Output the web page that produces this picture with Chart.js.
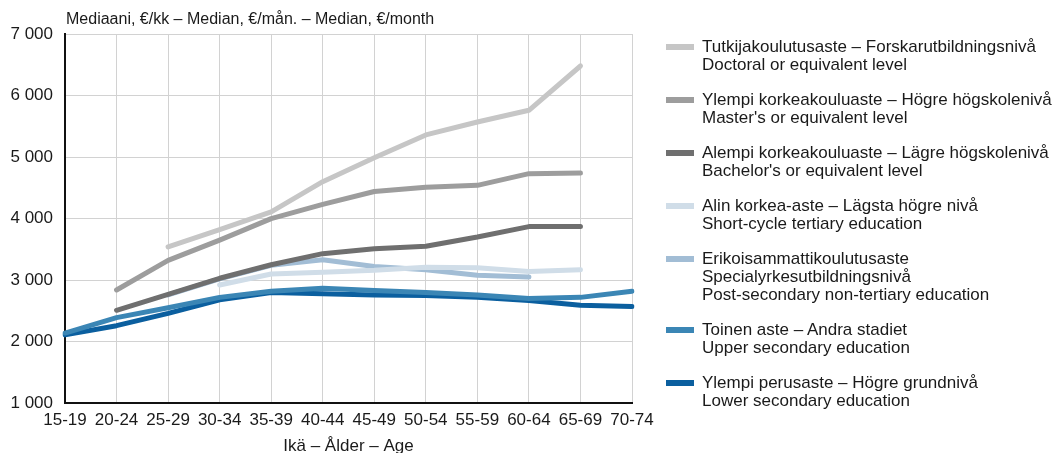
<!DOCTYPE html>
<html>
<head>
<meta charset="utf-8">
<script src="https://cdn.jsdelivr.net/npm/chart.js@4"></script>
<style>
  body { margin: 0; background: #fff; font-family: "Liberation Sans", Arial, sans-serif; color: #1a1a1a; }
  #wrap { position: relative; width: 1052px; height: 453px; overflow: hidden; }
  #chart { position: absolute; left: 0; top: 0; }
  #title { position: absolute; left: 66px; top: 10px; font-size: 16px; }
  #legend { position: absolute; left: 666px; top: 38px; font-size: 17px; line-height: 18px; }
  .item { position: relative; padding-left: 36px; margin-bottom: 17px; }
  .sw { position: absolute; left: 0; top: 6px; width: 28px; height: 6px; }
</style>
</head>
<body>
<div id="wrap">
  <canvas id="chart" width="1052" height="453"></canvas>
  <div id="title">Mediaani, €/kk – Median, €/mån. – Median, €/month</div>
  <div id="legend"></div>
</div>
<script>
// {{{ data
const ages = ['15-19', '20-24', '25-29', '30-34', '35-39', '40-44', '45-49', '50-54', '55-59', '60-64', '65-69', '70-74'];
const doctoral = [null, null, 3540, 3820, 4110, 4600, 4990, 5360, 5570, 5760, 6480, null];
const masters = [null, 2840, 3320, 3650, 4000, 4230, 4440, 4510, 4540, 4730, 4740, null];
const bachelors = [null, 2510, 2770, 3030, 3250, 3430, 3510, 3550, 3700, 3870, 3870, null];
const shortCycle = [null, null, null, 2920, 3100, 3130, 3160, 3210, 3200, 3140, 3170, null];
const postSecondary = [null, null, 2760, 3020, 3240, 3330, 3220, 3170, 3080, 3050, null, null];
const upperSecondary = [2140, 2390, 2550, 2720, 2820, 2870, 2830, 2800, 2760, 2700, 2720, 2820];
const lowerSecondary = [2110, 2260, 2460, 2680, 2800, 2780, 2760, 2750, 2720, 2670, 2590, 2570];
const yTicks = [1000, 2000, 3000, 4000, 5000, 6000, 7000];
// }}}

const series = [
  {label: ['Tutkijakoulutusaste – Forskarutbildningsnivå', 'Doctoral or equivalent level'], data: doctoral, color: '#c6c6c6'},
  {label: ['Ylempi korkeakouluaste – Högre högskolenivå', "Master's or equivalent level"], data: masters, color: '#9d9d9d'},
  {label: ['Alempi korkeakouluaste – Lägre högskolenivå', "Bachelor's or equivalent level"], data: bachelors, color: '#6f6f6f'},
  {label: ['Alin korkea-aste – Lägsta högre nivå', 'Short-cycle tertiary education'], data: shortCycle, color: '#d0dde8'},
  {label: ['Erikoisammattikoulutusaste', 'Specialyrkesutbildningsnivå', 'Post-secondary non-tertiary education'], data: postSecondary, color: '#a2bdd5'},
  {label: ['Toinen aste – Andra stadiet', 'Upper secondary education'], data: upperSecondary, color: '#3b86b5'},
  {label: ['Ylempi perusaste – Högre grundnivå', 'Lower secondary education'], data: lowerSecondary, color: '#0b5f9f'}
];

// legend
let lg = document.getElementById('legend');
for (let i = 0; i < series.length; i++)
{
  let d = document.createElement('div');
  d.className = 'item';
  d.innerHTML = '<span class="sw" style="background:' + series[i].color + '"></span>' + series[i].label.join('<br>');
  lg.appendChild(d);
}

const fmt = (v) => String(v).replace(/\B(?=(\d{3})+(?!\d))/g, ' ');
const font = {family: '"Liberation Sans", Arial, sans-serif', size: 17};

new Chart(document.getElementById('chart'),
{
  type: 'line',
  data:
  {
    labels: ages,
    datasets: series.map((s) => ({
      label: s.label.join(' '),
      data: s.data,
      borderColor: s.color,
      backgroundColor: s.color,
      borderWidth: 5,
      borderCapStyle: 'round',
      borderJoinStyle: 'round',
      pointRadius: 0,
      tension: 0,
      spanGaps: false
    }))
  },
  options:
  {
    responsive: false,
    animation: false,
    layout: {padding: {left: 0, right: 420, top: 34, bottom: -4}},
    plugins: {legend: {display: false}, title: {display: false}, tooltip: {enabled: false}},
    scales:
    {
      x:
      {
        offset: false,
        grid: {color: '#d2d2d2', lineWidth: 1, drawTicks: false},
        border: {color: '#111', width: 2},
        ticks: {font: font, color: '#1a1a1a', padding: 7, maxRotation: 0, autoSkip: false},
        title: {display: true, text: 'Ikä – Ålder – Age', font: font, color: '#1a1a1a', padding: {top: -1, bottom: 0}}
      },
      y:
      {
        min: 1000,
        max: 7000,
        afterBuildTicks: (ax) => { ax.ticks = yTicks.map((v) => ({value: v})); },
        afterFit: (ax) => { ax.width = 65; },
        grid: {color: '#d2d2d2', lineWidth: 1, drawTicks: false},
        border: {color: '#111', width: 2},
        ticks: {font: font, color: '#1a1a1a', padding: 12, callback: (v) => fmt(v)}
      }
    }
  }
});
</script>
</body>
</html>
